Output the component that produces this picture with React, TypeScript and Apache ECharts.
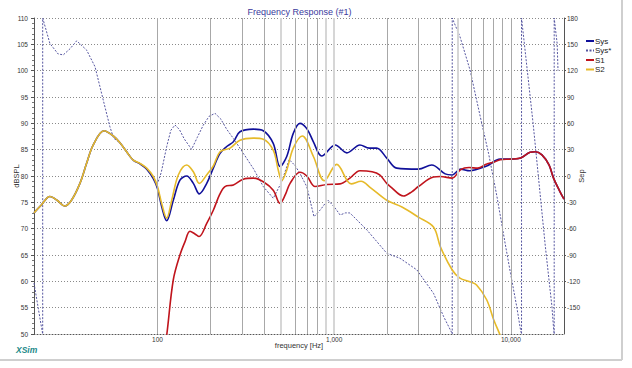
import React, { useEffect, useRef } from "react";
import * as echarts from "echarts";

// ---- Data ----
const sysFreq = [20, 22, 24.6, 27, 29.9, 32.6, 36.4, 39.7, 43.3, 49.8, 56.2, 61.3, 66.9, 72.9, 79.6, 86.9, 94.7, 100, 105.6, 112.7, 122.9, 134, 146.4, 159.6, 172.5, 190, 207, 226, 246.6, 269, 293, 349, 397, 452, 494, 539, 587, 640, 700, 763, 850, 1014, 1180, 1400, 1580, 1740, 1985, 2260, 2997, 3566, 4250, 4650, 5200, 5850, 7300, 8700, 9960, 11350, 12850, 13750, 15000, 16450, 17450, 19000, 20000];
const sysDb = [73.0, 74.5, 76.1, 75.4, 74.3, 75.4, 78.6, 82.4, 85.9, 88.6, 87.6, 86.3, 84.6, 83.0, 82.3, 81.3, 79.5, 77.6, 74.2, 71.5, 75.4, 79.2, 80.0, 78.6, 76.6, 78.6, 81.5, 84.3, 85.6, 86.5, 88.4, 88.9, 88.6, 86.2, 81.8, 83.7, 88.1, 90.0, 89.0, 86.5, 83.8, 85.9, 84.4, 85.9, 85.3, 85.3, 83.4, 81.5, 81.3, 82.1, 80.4, 80.2, 81.3, 81.0, 81.9, 83.2, 83.2, 83.4, 84.5, 84.6, 84.0, 82.1, 79.6, 77.0, 75.6];

const s1Freq = [110, 113, 122.9, 134, 143, 152.7, 163, 172, 190, 207, 225, 241, 269, 306, 349, 397, 452, 494, 530, 563, 640, 700, 780, 910, 1081, 1228, 1400, 1640, 1810, 1985, 2080, 2470, 2750, 2997, 3650, 4000, 4650, 5200, 5800, 6500, 7300, 8000, 8700, 9960, 11350, 12850, 13750, 15000, 16450, 17450, 19000, 20000];
const s1Db = [47.5, 50.0, 60.3, 65.0, 67.5, 69.5, 69.0, 68.5, 71.0, 73.5, 76.5, 78.0, 78.3, 79.4, 79.6, 78.9, 77.3, 74.8, 76.5, 78.6, 80.7, 80.0, 78.0, 78.4, 78.5, 79.6, 81.0, 80.8, 80.2, 78.6, 78.0, 76.2, 77.0, 78.0, 79.8, 79.9, 79.6, 81.2, 81.6, 81.5, 82.3, 82.6, 83.1, 83.2, 83.4, 84.5, 84.6, 84.0, 82.1, 79.6, 77.0, 75.6];

const s2Freq = [20, 22, 24.6, 27, 29.9, 32.6, 36.4, 39.7, 43.3, 49.8, 56.2, 61.3, 66.9, 72.9, 79.6, 86.9, 94.7, 100, 105.6, 112.7, 120.4, 131.2, 146.4, 159.6, 172.5, 189.8, 207, 226, 257.5, 293, 349, 397, 452, 483, 505, 539, 587, 660, 763, 880, 1034, 1250, 1420, 1603, 1985, 2420, 2997, 3650, 4000, 4650, 5150, 5870, 6400, 7300, 8000, 8550, 8900];
const s2Db = [73.0, 74.5, 76.1, 75.4, 74.3, 75.4, 78.6, 82.4, 85.9, 88.6, 87.6, 86.3, 84.6, 83.0, 82.4, 81.5, 79.9, 78.0, 74.8, 72.0, 75.4, 80.2, 82.1, 80.8, 78.6, 80.2, 81.9, 84.6, 85.3, 86.8, 87.2, 87.0, 84.9, 81.1, 79.1, 81.1, 85.3, 87.6, 83.7, 79.1, 82.2, 78.5, 79.0, 77.8, 75.4, 74.1, 72.2, 70.3, 66.5, 62.2, 60.6, 59.9, 59.3, 56.5, 52.7, 50.4, 49.0];

const phaseFreq = [20, 22.1, 22.4, 22.4, 24.6, 27.4, 29.3, 32, 34.9, 39.7, 44.3, 49.3, 53.8, 56.5, 61.3, 66.9, 72.9, 79.6, 86.9, 94.7, 99, 105, 112.7, 119, 125.6, 133, 142, 156, 168, 181.8, 196, 211.7, 228, 246.6, 275, 306, 350, 397.6, 452.6, 505, 556, 600, 640, 700, 769, 840, 919, 1000, 1081, 1160, 1228, 1533, 1985, 2358, 2941, 3649, 4170, 4648, 4660, 4660, 5155, 5876, 6780, 7480, 8350, 9320, 9960, 10800, 11350, 11500, 11500, 11630, 13400, 15650, 17090, 17450, 17600, 17600, 18290, 18500];
const phaseDeg = [-122, -173.5, -180, 180, 151, 139, 138, 145, 154, 143.5, 124.5, 86.6, 56, 43, 38, 27.7, 18.2, 14.5, 8.8, -0.8, -11.4, 4, 33.4, 52, 58.1, 53, 42, 30.4, 44, 58.1, 68, 71.4, 65, 53.2, 40, 25.9, 8, -12.2, -25.4, -6.5, 18.8, 12, 3.1, -12.2, -46.4, -38, -27.3, -35, -44.4, -42, -42.1, -61.5, -88, -93.7, -107, -133.6, -160.3, -179.2, -180, 180, 158.7, 120.8, 63.8, 25.9, -23.6, -78.6, -110.8, -148.8, -175.4, -180, 180, 171, 58.1, -78.6, -148.8, -173, -180, 180, 151, 120];

const gridFreqs = [100, 200, 300, 400, 500, 600, 700, 800, 900, 1000, 2000, 3000, 4000, 5000, 6000, 7000, 8000, 9000, 10000];
const lightGridFreqs = [500, 900, 1000, 5000];

const dbTicks = { min: 50, max: 110, step: 5 };
const degTicks = { min: -180, max: 180, step: 30 };
const freqRange = { min: 20, max: 20000 };
const xLabels: Record<number, string> = { 100: "100", 1000: "1,000", 10000: "10,000" };

const FONT = "Liberation Sans, Arial, sans-serif";

function pairs(xs: number[], ys: number[]) {
  return xs.map((x, i) => [x, ys[i]]);
}

export default function App() {
  const ref = useRef<HTMLDivElement>(null);
  useEffect(() => {
    if (!ref.current) return;
    const chart = echarts.init(ref.current, undefined, { renderer: "svg" });
    const axisLabelStyle = { fontSize: 6.5, color: "#333", fontFamily: FONT };
    chart.setOption({
      animation: false,
      backgroundColor: "#ffffff",
      grid: { left: 34, right: 68, top: 18, bottom: 34, containLabel: false, outerBoundsMode: "none" },
      legend: {
        data: ["Sys", "Sys*", "S1", "S2"],
        orient: "vertical",
        left: 585,
        top: 37,
        itemWidth: 8,
        itemHeight: 6,
        itemGap: 1.5,
        padding: 0,
        itemStyle: { opacity: 0 },
        textStyle: { fontSize: 8, color: "#222", fontFamily: FONT, padding: [0, 0, 0, -4] },
      },
      xAxis: {
        type: "log",
        logBase: 10,
        min: freqRange.min,
        max: freqRange.max,
        name: "frequency [Hz]",
        nameLocation: "middle",
        nameGap: 7,
        nameMoveOverlap: false,
        nameTextStyle: { fontSize: 7.5, color: "#333", fontFamily: FONT },
        axisLine: { show: true, onZero: false, lineStyle: { color: "#555", type: [1, 2], width: 1 } },
        axisTick: { show: false },
        axisLabel: {
          ...axisLabelStyle,
          margin: 2,
          showMinLabel: false,
          showMaxLabel: false,
          formatter: (v: number) => xLabels[Math.round(v)] ?? "",
        },
        splitLine: { show: false },
      },
      yAxis: [
        {
          type: "value",
          position: "left",
          min: dbTicks.min,
          max: dbTicks.max,
          interval: dbTicks.step,
          name: "dBSPL",
          nameLocation: "middle",
          nameGap: 14,
          nameMoveOverlap: false,
          nameRotate: 90,
          nameTextStyle: { fontSize: 7.5, color: "#333", fontFamily: FONT },
          axisLine: { show: true, lineStyle: { color: "#555" } },
          axisTick: { show: true, length: 3, lineStyle: { color: "#555" } },
          minorTick: { show: true, splitNumber: 5, length: 2, lineStyle: { color: "#777" } },
          axisLabel: { ...axisLabelStyle, margin: 6 },
          splitLine: { show: true, lineStyle: { color: "#8a8a8a", type: [1, 2], width: 1 } },
        },
        {
          type: "value",
          position: "right",
          min: degTicks.min,
          max: degTicks.max,
          interval: degTicks.step,
          name: "Sep",
          nameLocation: "middle",
          nameGap: 13,
          nameMoveOverlap: false,
          nameRotate: 90,
          nameTextStyle: { fontSize: 7.5, color: "#333", fontFamily: FONT },
          axisLine: { show: true, lineStyle: { color: "#555" } },
          axisTick: { show: true, length: 2, lineStyle: { color: "#555" } },
          axisLabel: { ...axisLabelStyle, margin: 3, showMinLabel: false },
          splitLine: { show: false },
        },
      ],
      series: [
        {
          type: "line",
          name: "grid",
          data: [],
          z: 1,
          silent: true,
          markLine: {
            silent: true,
            symbol: "none",
            label: { show: false },
            lineStyle: { type: "solid" },
            animation: false,
            data: gridFreqs.map((f) => ({
              xAxis: f,
              lineStyle: lightGridFreqs.includes(f)
                ? { color: "#d6d6d6", width: 2, type: "solid" }
                : { color: "#a8a8a8", width: 1, type: "solid" },
            })),
          },
        },
        {
          type: "line",
          name: "Sys",
          yAxisIndex: 0,
          data: pairs(sysFreq, sysDb),
          symbol: "none",
          smooth: 0.35,
          z: 3,
          color: "#10109a",
          lineStyle: { color: "#10109a", width: 1.6 },
        },
        {
          type: "line",
          name: "Sys*",
          yAxisIndex: 1,
          data: pairs(phaseFreq, phaseDeg),
          symbol: "none",
          smooth: false,
          z: 3,
          color: "#5656a0",
          lineStyle: { color: "#5656a0", width: 1, type: [2, 1.5] },
        },
        {
          type: "line",
          name: "S1",
          yAxisIndex: 0,
          data: pairs(s1Freq, s1Db),
          symbol: "none",
          smooth: 0.35,
          z: 3,
          color: "#c0141c",
          lineStyle: { color: "#c0141c", width: 1.6 },
        },
        {
          type: "line",
          name: "S2",
          yAxisIndex: 0,
          data: pairs(s2Freq, s2Db),
          symbol: "none",
          smooth: 0.35,
          z: 3,
          color: "#e6ba2a",
          lineStyle: { color: "#e6ba2a", width: 1.6 },
        },
      ],
      graphic: [
        {
          type: "text",
          x: 299.5,
          y: 12,
          style: {
            text: "Frequency Response (#1)",
            fontSize: 9,
            fill: "#3a3a9c",
            fontFamily: FONT,
            textAlign: "center",
            textVerticalAlign: "middle",
          },
        },
        {
          type: "text",
          x: 16,
          y: 350,
          style: {
            text: "XSim",
            fontSize: 8.5,
            fontStyle: "italic",
            fontWeight: "bold",
            fill: "#1e8a8a",
            fontFamily: FONT,
            textAlign: "left",
            textVerticalAlign: "middle",
          },
        },
        {
          type: "line",
          shape: { x1: 622, y1: 0, x2: 622, y2: 360 },
          style: { stroke: "#cfcfcf", lineWidth: 2 },
        },
        {
          type: "line",
          shape: { x1: 0, y1: 360, x2: 622, y2: 360 },
          style: { stroke: "#cfcfcf", lineWidth: 2 },
        },
      ],
    });
    return () => chart.dispose();
  }, []);
  return (
    <div
      ref={ref}
      style={{ position: "fixed", left: 0, top: 0, width: 632, height: 368, background: "#fff" }}
    />
  );
}
